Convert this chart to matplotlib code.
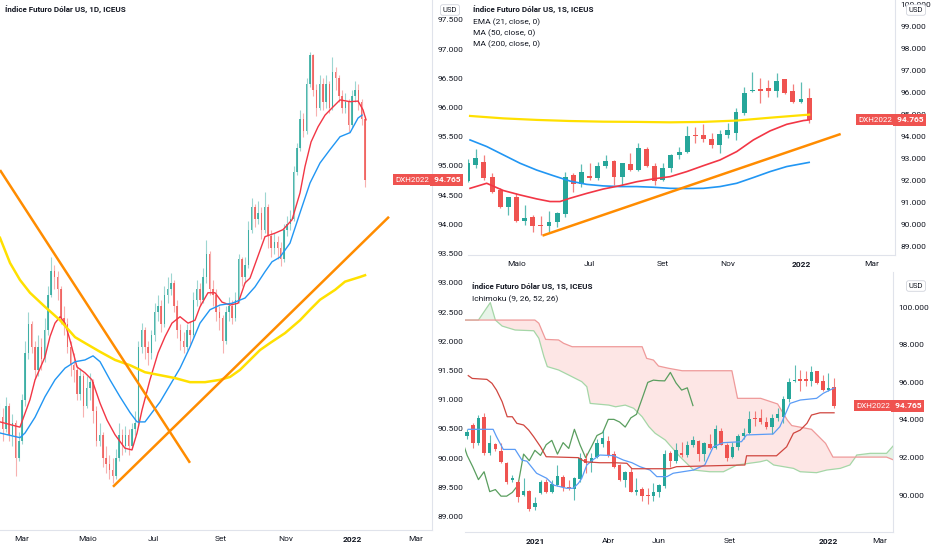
import numpy as np
import matplotlib
matplotlib.use("Agg")
import matplotlib.pyplot as plt
from matplotlib.patches import Polygon
from matplotlib import transforms

plt.rcParams['font.family'] = ['Roboto', 'DejaVu Sans']

W, H = 932, 550
UP = '#26a69a'
DOWN = '#ef5350'
TXT = '#131722'
GRID = '#e0e3eb'
LAST = 94.765

# ---------------- daily chart (left), x = days since 2021-03-01, one bar every 3 days
day_first = -21
day_open_first = 90.45
daily_close = [
    90.70, 90.50, 90.90, 90.40, 90.60, 90.00, 90.30, 91.00, 91.80, 92.30,
    91.90, 91.50, 91.90, 91.70, 92.20, 92.80, 93.20, 93.10, 92.90, 92.40,
    92.30, 91.90, 91.60, 91.50, 91.10, 91.40, 90.90, 91.20, 91.30, 90.80,
    90.30, 90.40, 90.00, 89.90, 89.80, 89.70, 90.00, 90.40, 90.20, 90.40,
    90.20, 90.50, 90.60, 91.90, 92.20, 91.90, 91.80, 92.10, 92.50, 92.60,
    92.30, 92.80, 92.90, 93.00, 92.60, 92.20, 92.00, 91.90, 92.20, 92.10,
    92.70, 92.90, 92.70, 93.10, 93.50, 92.90, 92.80, 92.50, 92.40, 92.00,
    92.50, 92.60, 92.40, 92.70, 93.40, 93.10, 93.30, 93.90, 94.30, 94.10,
    94.20, 93.90, 94.30, 93.80, 93.60, 93.70, 93.60, 93.40, 93.90, 94.00,
    94.10, 94.90, 95.30, 95.80, 95.60, 96.40, 96.90, 96.30, 96.00, 96.40,
    96.10, 96.40, 96.00, 96.60, 96.50, 96.20, 96.00, 96.10, 95.70, 96.20,
    96.30, 96.10, 95.80, 94.765]
daily_high = [
    90.95, 90.85, 91.05, 90.95, 90.75, 90.65, 90.45, 91.10, 92.00, 92.50,
    92.35, 92.00, 92.10, 92.05, 92.40, 92.95, 93.44, 93.30, 93.20, 92.95,
    92.60, 92.40, 92.00, 91.80, 91.60, 91.55, 91.45, 91.40, 91.45, 91.35,
    90.90, 90.60, 90.45, 90.20, 90.05, 90.00, 90.15, 90.60, 90.50, 90.55,
    90.50, 90.60, 90.80, 92.00, 92.32, 92.25, 92.00, 92.20, 92.65, 92.80,
    92.70, 92.95, 93.10, 93.17, 93.05, 92.70, 92.30, 92.15, 92.30, 92.35,
    92.85, 93.05, 93.00, 93.25, 93.73, 93.55, 93.05, 92.90, 92.60, 92.45,
    92.60, 92.75, 92.70, 92.85, 93.50, 93.45, 93.45, 94.05, 94.45, 94.35,
    94.40, 94.30, 94.56, 94.35, 93.90, 93.85, 93.80, 93.70, 94.00, 94.15,
    94.25, 95.00, 95.40, 95.95, 95.90, 96.50, 96.95, 96.92, 96.40, 96.55,
    96.50, 96.55, 96.45, 96.87, 96.70, 96.55, 96.30, 96.25, 96.15, 96.30,
    96.45, 96.40, 96.15, 95.85]
daily_low = [
    90.35, 90.30, 90.45, 90.30, 90.20, 89.70, 89.95, 90.25, 90.90, 91.70,
    91.80, 91.35, 91.40, 91.50, 91.65, 92.10, 92.75, 92.90, 92.70, 92.30,
    92.10, 91.80, 91.40, 91.30, 91.00, 91.00, 90.70, 90.85, 91.00, 90.60,
    90.20, 90.20, 89.85, 89.75, 89.65, 89.57, 89.65, 89.95, 90.05, 90.10,
    90.05, 90.15, 90.40, 90.55, 91.80, 91.70, 91.60, 91.70, 92.00, 92.35,
    92.15, 92.25, 92.65, 92.80, 92.50, 92.05, 91.85, 91.80, 91.85, 91.95,
    92.05, 92.60, 92.60, 92.65, 93.00, 92.80, 92.60, 92.35, 92.20, 91.80,
    91.95, 92.35, 92.30, 92.35, 92.65, 92.95, 93.00, 93.25, 93.85, 93.95,
    94.00, 93.75, 93.85, 93.60, 93.45, 93.50, 93.40, 93.28, 93.35, 93.80,
    93.90, 94.05, 94.85, 95.25, 95.50, 95.55, 96.35, 96.20, 95.85, 95.95,
    95.95, 96.00, 95.90, 95.95, 96.30, 96.10, 95.90, 95.90, 95.58, 95.65,
    96.10, 95.95, 95.70, 94.64]

ema21_day = [-20.4, -1.9, 7.4, 12.1, 21.3, 26.0, 30.6, 35.3, 39.9, 44.5, 51.0, 58.4, 64.9,
             72.4, 78.9, 86.3, 95.5, 102.0, 106.7, 111.3, 118.7, 126.2, 132.7, 139.1, 146.6,
             154.0, 160.5, 165.1, 172.5, 179.0, 185.5, 193.0, 200.4, 206.9, 211.5, 225.4,
             234.7, 242.1, 250.5, 257.9, 262.5, 268.1, 274.6, 281.1, 288.5, 295.0, 304.3,
             311.7, 316.3, 319.1]
ema21_val = [90.62, 90.53, 91.0, 91.34, 91.73, 92.08, 92.31, 92.42, 92.31, 92.02, 91.56, 91.46,
             91.34, 90.94, 90.65, 90.4, 90.17, 90.14, 90.43, 90.82, 91.34, 91.8, 92.08, 92.31,
             92.42, 92.31, 92.36, 92.59, 92.83, 92.83, 92.67, 92.62, 92.65, 93.0, 93.08, 93.79,
             93.85, 93.91, 94.08, 94.54, 94.99, 95.41, 95.67, 95.87, 96.01, 96.13, 96.1, 96.11,
             95.96, 95.79]
ma50_day = [-20.4, -1.9, 2.8, 12.1, 21.3, 30.6, 39.9, 49.2, 58.4, 65.9, 72.4, 81.6, 90.9, 100.2,
            106.7, 114.1, 120.6, 128.0, 137.3, 146.6, 155.8, 165.1, 174.4, 183.7, 194.8, 206.9,
            216.1, 225.4, 231.9, 239.3, 248.6, 257.9, 267.2, 276.4, 285.7, 295.0, 304.3, 311.7,
            315.4]
ma50_val = [90.43, 90.35, 90.43, 90.7, 91.05, 91.34, 91.54, 91.65, 91.68, 91.75, 91.65, 91.34,
            91.05, 90.78, 90.62, 90.62, 90.78, 90.96, 91.25, 91.54, 91.9, 92.31, 92.54, 92.62,
            92.65, 92.74, 92.93, 93.19, 93.36, 93.44, 93.68, 94.2, 94.71, 95.05, 95.28, 95.5,
            95.57, 95.82, 95.87]
ma200_day = [-20.4, -11.1, -1.9, 7.4, 21.3, 35.3, 49.2, 58.4, 72.4, 86.3, 100.2, 114.1, 128.0,
             141.9, 155.8, 169.8, 183.7, 193.0, 202.2, 211.5, 220.8, 230.1, 244.0, 257.9,
             267.2, 276.4, 290.4, 299.6, 313.5, 318.2]
ma200_val = [93.77, 93.34, 93.05, 92.83, 92.59, 92.36, 92.07, 91.97, 91.82, 91.68, 91.59, 91.47,
             91.42, 91.37, 91.3, 91.3, 91.34, 91.39, 91.51, 91.68, 91.85, 91.97, 92.14, 92.36,
             92.54, 92.71, 92.88, 93.02, 93.1, 93.13]
down_line_day = [-20.4, 155.8]
down_line_val = [94.93, 89.92]
up_line_day = [84.4, 340.4]
up_line_val = [89.51, 94.13]
day_ticks = [0, 61, 122, 184, 245, 306, 365]
day_labels = ['Mar', 'Maio', 'Jul', 'Set', 'Nov', '2022', 'Mar']
day_yticks = [89.0, 89.5, 90.0, 90.5, 91.0, 91.5, 92.0, 92.5, 93.0, 93.5,
              94.0, 94.5, 95.0, 95.5, 96.0, 96.5, 97.0, 97.5]

# ---------------- weekly data, x = weeks since 2022-01-03
week_first = -64
wk_open = [
    93.12, 93.73, 92.75, 94.14, 92.22, 92.72, 92.34, 91.72, 90.80, 90.71,
    89.99, 90.22, 89.34, 90.09, 90.71, 90.18, 90.53, 90.98, 90.44, 90.33,
    90.84, 91.91, 91.68, 92.00, 92.71, 92.86, 92.18, 91.58, 90.82, 91.24,
    90.18, 90.33, 90.00, 89.94, 90.14, 90.47, 92.26, 91.83, 92.23, 92.11,
    92.68, 92.89, 92.18, 92.74, 92.48, 93.42, 92.67, 92.03, 92.56, 93.17,
    93.29, 94.08, 94.09, 93.89, 93.62, 94.08, 94.18, 95.09, 96.08, 96.18,
    96.20, 96.08, 96.60, 96.09, 95.59, 95.74]
wk_close = [
    93.36, 92.75, 94.08, 92.22, 92.75, 92.43, 91.77, 90.71, 90.93, 89.91,
    90.22, 89.25, 89.55, 90.71, 90.18, 90.58, 91.00, 90.44, 90.35, 90.89,
    91.98, 91.68, 91.96, 92.79, 93.02, 92.11, 91.50, 90.82, 91.24, 90.18,
    90.29, 89.94, 89.94, 90.14, 90.52, 92.18, 91.83, 92.38, 92.11, 92.68,
    92.91, 92.18, 92.79, 92.48, 93.50, 92.67, 91.98, 92.56, 93.17, 93.32,
    94.03, 94.03, 93.89, 93.62, 94.11, 94.30, 95.14, 96.00, 96.12, 96.09,
    96.08, 96.53, 95.97, 95.59, 95.71, 94.765]
wk_high = [
    93.50, 93.82, 94.26, 94.38, 93.20, 92.79, 92.79, 91.77, 91.06, 90.80,
    90.89, 90.27, 89.91, 90.80, 90.84, 90.80, 91.60, 91.06, 90.80, 90.94,
    92.22, 92.22, 92.22, 93.00, 93.45, 93.17, 92.33, 91.65, 91.27, 91.42,
    90.89, 90.44, 90.39, 90.62, 90.59, 92.41, 92.33, 92.76, 92.82, 92.86,
    93.17, 92.94, 92.82, 93.24, 93.73, 93.55, 92.79, 92.82, 93.23, 93.55,
    94.50, 94.45, 94.56, 94.15, 94.30, 94.61, 95.29, 96.24, 96.95, 96.65,
    96.58, 96.88, 96.61, 96.38, 96.50, 96.23]
wk_low = [
    93.00, 92.48, 92.66, 92.15, 92.13, 92.36, 91.72, 90.58, 90.71, 89.64,
    89.94, 89.16, 89.20, 90.05, 90.09, 90.09, 90.48, 90.23, 90.26, 89.73,
    90.71, 91.15, 91.24, 91.95, 92.57, 92.03, 91.42, 90.74, 90.44, 90.14,
    89.98, 89.68, 89.53, 89.68, 89.91, 90.36, 91.50, 91.73, 92.03, 92.03,
    92.56, 91.80, 91.80, 92.45, 92.45, 92.64, 91.80, 91.98, 92.41, 92.97,
    93.26, 93.70, 93.77, 93.50, 93.24, 93.94, 93.85, 94.98, 96.04, 95.55,
    95.82, 95.82, 95.94, 95.55, 95.55, 94.64]

# weekly moving averages (top right)
w_ema21_x = [-40.71, -38.66, -36.61, -34.56, -32.51, -30.87, -29.64, -28.41, -26.36, -24.31,
             -22.26, -20.21, -18.16, -16.11, -14.06, -12.01, -9.96, -7.91, -5.86, -3.81,
             -1.76, 0.29, 1.0]
w_ema21_v = [91.65, 91.88, 91.55, 91.35, 91.17, 91.05, 91.05, 91.2, 91.42, 91.62, 91.77, 91.95,
             92.08, 92.18, 92.41, 92.68, 92.94, 93.32, 93.85, 94.26, 94.56, 94.73, 94.76]
w_ma50_x = [-40.71, -38.66, -36.61, -34.56, -32.51, -30.5, -28.41, -26.36, -24.31, -22.26,
            -20.21, -18.16, -16.11, -14.06, -12.01, -9.96, -7.91, -5.86, -3.81, -1.76, 1.0]
w_ma50_v = [93.85, 93.55, 93.17, 92.79, 92.48, 92.23, 91.98, 91.83, 91.76, 91.73, 91.73, 91.7,
            91.65, 91.64, 91.65, 91.73, 91.88, 92.14, 92.41, 92.64, 92.83]
w_ma200_x = [-40.71, -36.61, -32.51, -28.41, -24.31, -20.21, -16.11, -12.01, -7.91, -3.81,
             0.29, 1.0]
w_ma200_v = [94.94, 94.83, 94.76, 94.71, 94.68, 94.67, 94.65, 94.67, 94.73, 94.86, 94.98, 95.0]
w_trend_x = [-31.8, 4.88]
w_trend_v = [89.5, 94.12]
wk_ticks = [-35, -26, -17, -9, 0, 8.7]
wk_labels = ['Maio', 'Jul', 'Set', 'Nov', '2022', 'Mar']
wk_yticks = [89, 90, 91, 92, 93, 94, 95, 96, 97, 98, 99, 100]

# Ichimoku (bottom right)
tenkan_x = [-63.8, -59.4, -58.8, -57.6, -55.5, -54.3, -53.4, -51.7, -49.9, -48.7, -46.4, -45.2,
            -44.3, -43.7, -42.8, -41.6, -40.5, -38.1, -36.3, -34.8, -33.4, -31.6, -30.4, -28.6,
            -27.5, -23.9, -21.9, -20.4, -18.6, -15.4, -14.5, -9.8, -8.6, -7.7, -6.8, -5.0,
            -2.1, -0.9, 1.0]
tenkan_v = [93.5, 93.5, 93.11, 92.43, 92.43, 91.86, 91.8, 91.16, 90.89, 90.53, 90.36, 90.36,
            90.62, 90.89, 91.6, 91.9, 92.13, 92.1, 91.86, 91.72, 91.51, 91.33, 90.98, 90.98,
            91.16, 91.33, 91.6, 92.57, 92.79, 92.84, 93.2, 93.25, 93.64, 94.26, 94.88, 95.06,
            95.15, 95.42, 95.7]
kijun_x = [-63.8, -63.1, -60.5, -59.6, -58.8, -57.8, -56.9, -56.0, -55.2, -54.0, -53.1, -52.2,
           -51.0, -50.0, -44.3, -43.1, -40.5, -37.8, -35.7, -34.8, -28.1, -26.9, -14.8, -14.5,
           -9.2, -7.4, -6.2, -5.0, -3.8, -3.0, -1.5, 1.0]
kijun_v = [96.36, 96.21, 96.16, 95.95, 95.59, 94.97, 94.17, 94.17, 93.82, 93.73, 93.46, 93.1,
           92.57, 92.04, 91.99, 91.77, 91.72, 91.72, 91.69, 91.4, 91.4, 91.51, 91.6, 92.09,
           92.09, 92.57, 93.29, 93.46, 93.82, 94.26, 94.38, 94.38]
span_a_x = [-65, -62.0, -59.9, -59.0, -57.8, -55.5, -52.2, -51.3, -50.4, -49.8, -47.8, -46.0,
            -43.7, -42.8, -42.2, -38.9, -37.7, -36.0, -34.5, -33.0, -31.8, -30.7, -28.9, -26.3,
            -23.9, -21.0, -18.6, -16.2, -12.1, -10.9, -9.7, -6.2, -5.0, -2.1, -0.3, 2.1, 3.8,
            4.8, 5.0, 7.4, 10.3, 11.6]
span_a_v = [99.32, 99.32, 100.25, 99.32, 99.0, 98.79, 98.75, 98.35, 97.37, 96.84, 96.66, 96.39,
            96.04, 95.77, 94.88, 94.79, 94.7, 94.79, 94.62, 94.17, 93.64, 93.29, 92.93, 92.04,
            91.33, 91.24, 91.24, 91.6, 91.77, 91.86, 91.6, 91.42, 91.24, 91.19, 91.33, 91.42,
            91.6, 92.02, 92.13, 92.22, 92.22, 92.66]
span_b_x = [-65, -62.0, -59.0, -52, -51.3, -50.1, -47.8, -46.9, -45.4, -33.0, -32.2, -31.0,
            -30.1, -28.3, -25.9, -17.1, -16.1, -12.0, -9.0, -7.3, -6.5, -3.0, -0.5, 0.8, 4.8,
            10.3, 11.6]
span_b_v = [99.32, 99.32, 99.32, 99.32, 99.15, 98.29, 98.26, 98.08, 97.9, 97.9, 97.28, 97.19,
            96.87, 96.75, 96.62, 96.62, 95.15, 95.15, 94.85, 94.0, 93.7, 93.5, 92.75, 92.02,
            92.02, 92.02, 91.86]
chikou_shift = 25
ich_ticks = [-52, -39, -30, -17.5, 0, 9]
ich_labels = ['2021', 'Abr', 'Jun', 'Set', '2022', 'Mar']
ich_yticks = [90, 92, 94, 96, 98, 100]

fig = plt.figure(figsize=(W / 100, H / 100), dpi=100)
fig.patch.set_facecolor('white')


def px_axes(x0, y0, x1, y1):
    return fig.add_axes([x0 / W, 1 - y1 / H, (x1 - x0) / W, (y1 - y0) / H])


def ptext(x, y, s, **kw):
    fig.text(x / W, 1 - y / H, s, **kw)


def candles(ax, x, o, h, l, c, width, lw, alpha=1.0, wick_alpha=0.75):
    o, h, l, c = map(np.asarray, (o, h, l, c))
    cols = np.where(c >= o, UP, DOWN)
    ax.vlines(x, l, h, colors=cols, lw=lw, alpha=wick_alpha, zorder=3)
    body = np.maximum(np.abs(c - o), 0.02)
    ax.bar(x, body, width, bottom=np.minimum(o, c), color=cols, lw=0, alpha=alpha, zorder=4)


def style(ax, xlim, ylim, yticks, xticks, xlabels):
    ax.set_xlim(*xlim)
    ax.set_ylim(*ylim)
    ax.yaxis.tick_right()
    ax.set_yticks(yticks)
    ax.set_yticklabels([f'{v:.3f}' for v in yticks])
    ax.set_xticks(xticks)
    ax.set_xticklabels(xlabels)
    for s in ['left', 'top']:
        ax.spines[s].set_visible(False)
    for s in ['right', 'bottom']:
        ax.spines[s].set_color(GRID)
        ax.spines[s].set_linewidth(0.8)
    ax.tick_params(length=0, labelsize=6, colors=TXT, pad=4)
    for lbl in ax.get_xticklabels():
        if lbl.get_text() in ('2021', '2022'):
            lbl.set_fontweight('bold')


def price_tag(ax, value):
    tr = transforms.blended_transform_factory(ax.transAxes, ax.transData)
    box = dict(boxstyle='square,pad=0.3', fc=DOWN, ec='none')
    ax.text(0.994, value, 'DXH2022', transform=tr, ha='right', va='center', fontsize=5.8,
            color='white', bbox=box, clip_on=False, zorder=10)
    ax.text(1.0, value, f' {value:.3f}', transform=tr, ha='left', va='center', fontsize=6,
            color='white', fontweight='bold', bbox=box, clip_on=False, zorder=10)


def usd(x, y):
    ptext(x, y, 'USD', ha='center', va='center', fontsize=5.5, color=TXT,
          bbox=dict(boxstyle='round,pad=0.3', fc='white', ec='#d1d4dc', lw=0.6), zorder=20)


# ---------- left: daily
ax_d = px_axes(0, 0, 432, 530)
dx = day_first + 3 * np.arange(len(daily_close))
d_open = [day_open_first] + daily_close[:-1]
candles(ax_d, dx, d_open, daily_high, daily_low, daily_close, 1.4, 0.8,
        alpha=0.8, wick_alpha=0.45)
ax_d.plot(ema21_day, ema21_val, color='#f23645', lw=1.0, zorder=5)
ax_d.plot(ma50_day, ma50_val, color='#2196f3', lw=1.0, zorder=5)
ax_d.plot(ma200_day, ma200_val, color='#ffe000', lw=1.8, zorder=5)
ax_d.plot(down_line_day, down_line_val, color='#ff8c00', lw=1.8, zorder=6, solid_capstyle='butt')
ax_d.plot(up_line_day, up_line_val, color='#ff8c00', lw=1.8, zorder=6, solid_capstyle='butt')
style(ax_d, (-20.4, 380.3), (88.77, 97.84), day_yticks, day_ticks, day_labels)
price_tag(ax_d, LAST)
ptext(5, 10, 'Índice Futuro Dólar US, 1D, ICEUS', fontsize=5.8, fontweight='bold',
      color=TXT, va='center')
usd(450, 10)

# ---------- top right: weekly with MAs
ax_w = px_axes(468, 0, 895, 255)
wx = week_first + np.arange(len(wk_close))
candles(ax_w, wx, wk_open, wk_high, wk_low, wk_close, 0.6, 0.9)
ax_w.plot(w_ma200_x, w_ma200_v, color='#ffe000', lw=1.6, zorder=5)
ax_w.plot(w_ma50_x, w_ma50_v, color='#2196f3', lw=1.2, zorder=5)
ax_w.plot(w_ema21_x, w_ema21_v, color='#f23645', lw=1.2, zorder=5)
ax_w.plot(w_trend_x, w_trend_v, color='#ff8c00', lw=1.8, zorder=6, solid_capstyle='butt')
style(ax_w, (-40.96, 11.56), (88.62, 100.21), wk_yticks, wk_ticks, wk_labels)
price_tag(ax_w, LAST)
ptext(473, 10, 'Índice Futuro Dólar US, 1S, ICEUS', fontsize=5.8, fontweight='bold',
      color=TXT, va='center')
ptext(473, 22, 'EMA (21, close, 0)', fontsize=6, color=TXT, va='center')
ptext(473, 33, 'MA (50, close, 0)', fontsize=6, color=TXT, va='center')
ptext(473, 44, 'MA (200, close, 0)', fontsize=6, color=TXT, va='center')
usd(916, 10)

# ---------- bottom right: Ichimoku
ax_i = px_axes(465, 272, 893, 532)
aw, av = np.array(span_a_x), np.array(span_a_v)
bw, bv = np.array(span_b_x), np.array(span_b_v)


def cloud(w0, w1, color):
    ma = (aw >= w0) & (aw <= w1)
    mb = (bw >= w0) & (bw <= w1)
    pts = list(zip(aw[ma], av[ma])) + list(zip(bw[mb][::-1], bv[mb][::-1]))
    ax_i.add_patch(Polygon(pts, closed=True, fc=color, ec='none', alpha=0.13, zorder=1))


cloud(-59.0, 4.8, '#f44336')
cloud(-62.0, -59.0, '#4caf50')
cloud(4.8, 11.6, '#4caf50')
ax_i.plot(span_a_x, span_a_v, color='#a5d6a7', lw=0.9, zorder=2)
ax_i.plot(span_b_x, span_b_v, color='#ef9a9a', lw=0.9, zorder=2)
ax_i.plot(wx - chikou_shift, wk_close, color='#5a9e5f', lw=0.9, zorder=2)
candles(ax_i, wx, wk_open, wk_high, wk_low, wk_close, 0.62, 0.8)
ax_i.plot(tenkan_x, tenkan_v, color='#5b9cf6', lw=0.9, zorder=5)
ax_i.plot(kijun_x, kijun_v, color='#d0463f', lw=0.9, zorder=5)
style(ax_i, (-64.38, 11.44), (88.03, 101.88), ich_yticks, ich_ticks, ich_labels)
price_tag(ax_i, LAST)
ptext(472, 287, 'Índice Futuro Dólar US, 1S, ICEUS', fontsize=5.8, fontweight='bold',
      color=TXT, va='center')
ptext(472, 299, 'Ichimoku (9, 26, 52, 26)', fontsize=6, color=TXT, va='center')
usd(916, 286)

fig.savefig('out.png', dpi=100, facecolor='white')
